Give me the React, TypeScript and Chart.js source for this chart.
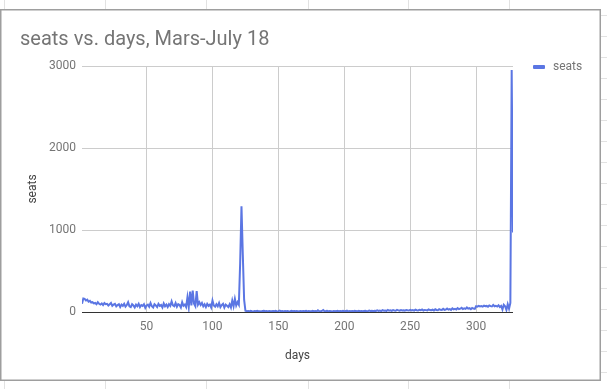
import React, { useEffect, useRef } from 'react';
import { Chart, registerables } from 'chart.js';

Chart.register(...registerables);

const titleText = 'seats vs. days, Mars-July 18';
const seriesName = 'seats';
const xAxisTitle = 'days';
const yAxisTitle = 'seats';
const xTickValues = [50, 100, 150, 200, 250, 300];
const yTickValues = [0, 1000, 2000, 3000];
const firstDay = 1;

const seats = [
  100, 165, 160, 140, 150, 125, 135, 115, 120, 105,
  110, 95, 120, 100, 90, 105, 85, 110, 95, 100,
  80, 95, 110, 75, 90, 100, 70, 85, 95, 60,
  90, 75, 100, 65, 85, 120, 70, 60, 95, 80,
  55, 90, 70, 100, 60, 85, 75, 95, 50, 80,
  90, 65, 110, 70, 55, 95, 80, 60, 100, 75,
  85, 55, 105, 70, 90, 60, 95, 75, 130, 80,
  70, 110, 65, 95, 85, 55, 120, 75, 90, 60,
  180, 60, 250, 80, 260, 100, 70, 255, 90, 120,
  85, 110, 70, 95, 60, 100, 75, 90, 55, 140,
  80, 65, 95, 70, 110, 60, 85, 100, 55, 90,
  75, 60, 95, 55, 140, 70, 160, 80, 120, 90,
  600, 1290, 700, 150, 15,
  10, 12, 8, 15, 10, 6, 12, 9, 14, 8,
  10, 7, 12, 15, 9, 11, 6, 13, 10, 8,
  12, 9, 14, 7, 10, 18, 8, 11, 6, 12,
  9, 13, 7, 10, 14, 8, 11, 9, 12, 6,
  10, 13, 8, 12, 9, 15, 7, 11, 10, 8,
  14, 9, 12, 7, 22, 10, 8, 13, 25, 9,
  11, 14, 8, 12, 10, 7, 13, 9, 11, 15,
  8, 12, 10, 14, 9, 11, 16, 8, 13, 10,
  12, 9, 15, 11, 8, 14, 10, 13, 9, 12,
  15, 10, 13, 18, 11, 14, 9, 16, 12, 20,
  13, 17, 11, 22, 15, 19, 12, 25, 16, 20,
  14, 23, 18, 15, 26, 20, 17, 24, 19, 22,
  16, 25, 21, 18, 27, 20, 24, 17, 28, 22,
  19, 26, 21, 30, 18, 25, 23, 20, 32, 24,
  22, 28, 19, 33, 25, 21, 35, 27, 24, 38,
  26, 30, 42, 28, 35, 25, 45, 32, 38, 30,
  48, 34, 40, 52, 36, 44, 38, 55, 40, 46,
  35, 50, 42, 38, 70, 65, 75, 68, 72, 66,
  78, 70, 74, 65, 80, 72, 68, 85, 70, 76,
  66, 82, 60, 74, 30, 88, 70, 25, 95, 40,
  110, 2950, 970,
];

const W = 607;
const H = 389;
const lineColor = '#5b76e3';
const textGray = '#757575';
const FONT = 'Roboto, "Noto Sans", sans-serif';

const sheetPlugin = {
  id: 'sheetFrame',
  beforeDraw(chart: any) {
    const ctx = chart.ctx as CanvasRenderingContext2D;
    ctx.save();
    ctx.fillStyle = '#ffffff';
    ctx.fillRect(0, 0, W, H);
    ctx.strokeStyle = '#e2e2e2';
    ctx.lineWidth = 1;
    for (const x of [4, 105, 206, 308, 408, 509]) {
      ctx.beginPath();
      ctx.moveTo(x + 0.5, 0);
      ctx.lineTo(x + 0.5, 9);
      ctx.moveTo(x + 0.5, 381);
      ctx.lineTo(x + 0.5, H);
      ctx.stroke();
    }
    for (let y = 15; y < H; y += 21) {
      ctx.beginPath();
      ctx.moveTo(601, y + 0.5);
      ctx.lineTo(W, y + 0.5);
      ctx.stroke();
    }
    ctx.strokeStyle = '#9e9e9e';
    ctx.lineWidth = 1.5;
    ctx.strokeRect(0.75, 9.75, 599.5, 370.5);
    ctx.restore();
  },
  afterDraw(chart: any) {
    const ctx = chart.ctx as CanvasRenderingContext2D;
    ctx.save();
    ctx.fillStyle = textGray;
    ctx.font = `20px ${FONT}`;
    ctx.textAlign = 'left';
    ctx.textBaseline = 'alphabetic';
    ctx.fillText(titleText, 20, 45);
    // legend
    const lx = chart.chartArea.right + 20;
    const ly = chart.chartArea.top + 1;
    ctx.fillStyle = lineColor;
    ctx.beginPath();
    ctx.roundRect(lx, ly - 2, 12, 4, 1);
    ctx.fill();
    ctx.fillStyle = textGray;
    ctx.font = `12px ${FONT}`;
    ctx.textBaseline = 'middle';
    ctx.fillText(seriesName, lx + 20, ly);
    ctx.restore();
  },
};

export default function App() {
  const ref = useRef<HTMLCanvasElement>(null);
  useEffect(() => {
    if (!ref.current) return;
    const points = seats.map((v, i) => ({ x: firstDay + i, y: v }));
    const chart = new Chart(ref.current, {
      type: 'line',
      data: {
        datasets: [
          {
            label: seriesName,
            data: points,
            borderColor: lineColor,
            backgroundColor: lineColor,
            borderWidth: 2,
            pointRadius: 0,
            tension: 0,
          },
        ],
      },
      plugins: [sheetPlugin],
      options: {
        responsive: false,
        animation: false,
        layout: { padding: { left: 0, top: 66, right: 94, bottom: 0 } },
        plugins: {
          legend: { display: false },
          title: { display: false },
          tooltip: { enabled: false },
        },
        scales: {
          x: {
            type: 'linear',
            min: firstDay,
            max: firstDay + seats.length - 1,
            afterBuildTicks: (scale: any) => {
              scale.ticks = xTickValues.map((v) => ({ value: v }));
            },
            afterFit: (scale: any) => {
              scale.height = 77;
            },
            grid: { color: '#cccccc', drawTicks: false },
            border: { display: false },
            ticks: {
              color: textGray,
              font: { family: FONT, size: 12 },
              padding: 8,
              maxRotation: 0,
              autoSkip: false,
              callback: (v: any) => String(v),
            },
            title: {
              display: true,
              text: xAxisTitle,
              color: '#444444',
              font: { family: FONT, size: 12 },
              padding: { top: 0, bottom: 26 },
            },
          },
          y: {
            type: 'linear',
            min: 0,
            max: 3000,
            afterBuildTicks: (scale: any) => {
              scale.ticks = yTickValues.map((v) => ({ value: v }));
            },
            afterFit: (scale: any) => {
              scale.width = 82;
            },
            grid: {
              color: (c: any) => (c.tick && c.tick.value === 0 ? '#333333' : '#cccccc'),
              drawTicks: false,
            },
            border: { display: false },
            ticks: {
              color: textGray,
              font: { family: FONT, size: 12 },
              padding: 6,
              callback: (v: any) => String(v),
            },
            title: {
              display: true,
              text: yAxisTitle,
              color: '#444444',
              font: { family: FONT, size: 12 },
              padding: { top: 26, bottom: 0 },
            },
          },
        },
      },
    });
    return () => chart.destroy();
  }, []);
  return (
    <div style={{ position: 'fixed', left: 0, top: 0, width: W, height: H }}>
      <canvas ref={ref} width={W} height={H} style={{ display: 'block', width: W, height: H }} />
    </div>
  );
}
